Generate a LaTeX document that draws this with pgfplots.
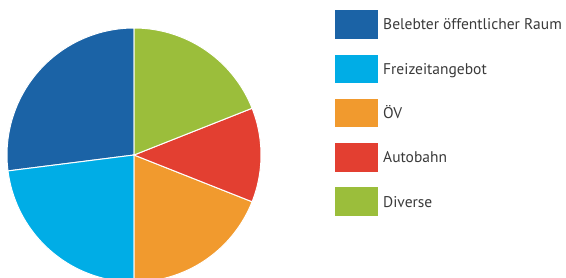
\documentclass[border=0pt]{standalone}
\usepackage{pgfplots}
\pgfplotsset{compat=1.18}
\usepackage{fontspec}
\setmainfont{PT Sans}
\definecolor{cDark}{HTML}{1B63A6}
\definecolor{cLight}{HTML}{00ADE6}
\definecolor{cOrange}{HTML}{F19A2E}
\definecolor{cRed}{HTML}{E33F31}
\definecolor{cGreen}{HTML}{9BBE3B}
\definecolor{textgray}{HTML}{3A3A3A}
% shares (percent): Belebter oeffentlicher Raum 27, Freizeitangebot 23, OeV 19, Autobahn 12, Diverse 19
% slice angles (degrees, counter-clockwise, 0 = east), running clockwise from the top
\begin{document}
\begin{tikzpicture}
\useasboundingbox (0,0) rectangle (566pt,277pt);
\begin{axis}[
  at={(0,0)}, anchor=south west,
  x=1pt, y=1pt,
  xmin=0, xmax=566, ymin=0, ymax=277,
  hide axis, clip=true,
  legend style={at={(axis cs:335,267)}, anchor=north west, draw=none, fill=none,
    inner sep=0pt, row sep=15.9pt, column sep=5pt,
    font=\fontsize{15.5pt}{18pt}\selectfont, text=textgray,
    nodes={inner sep=0pt, text height=11pt, text depth=0pt}, cells={anchor=west}},
  legend image code/.code={\fill[#1,draw=none] (0pt,-14.2pt) rectangle (43pt,14.2pt);},
]
\addplot[fill=cDark, draw=white, line width=1pt, domain=90:187.2, samples=80]
  ({134+127*cos(x)},{122+127*sin(x)}) -- (axis cs:134,122) -- cycle;
\addlegendentry{Belebter öffentlicher Raum}
\addplot[fill=cLight, draw=white, line width=1pt, domain=187.2:270, samples=80]
  ({134+127*cos(x)},{122+127*sin(x)}) -- (axis cs:134,122) -- cycle;
\addlegendentry{Freizeitangebot}
\addplot[fill=cOrange, draw=white, line width=1pt, domain=270:338.4, samples=80]
  ({134+127*cos(x)},{122+127*sin(x)}) -- (axis cs:134,122) -- cycle;
\addlegendentry{ÖV}
\addplot[fill=cRed, draw=white, line width=1pt, domain=338.4:381.6, samples=60]
  ({134+127*cos(x)},{122+127*sin(x)}) -- (axis cs:134,122) -- cycle;
\addlegendentry{Autobahn}
\addplot[fill=cGreen, draw=white, line width=1pt, domain=21.6:90, samples=80]
  ({134+127*cos(x)},{122+127*sin(x)}) -- (axis cs:134,122) -- cycle;
\addlegendentry{Diverse}
\end{axis}
\end{tikzpicture}
\end{document}
